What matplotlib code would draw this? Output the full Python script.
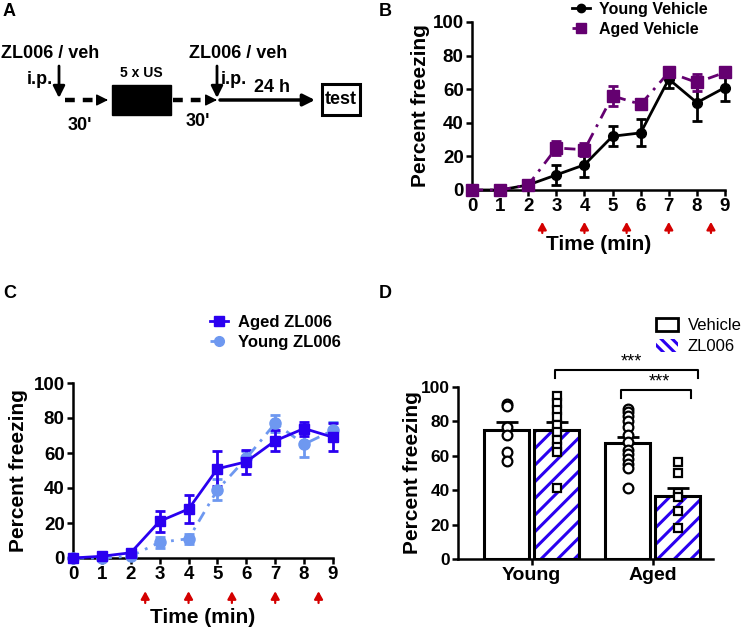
import numpy as np
import matplotlib
matplotlib.use("Agg")
import matplotlib.pyplot as plt
from matplotlib.lines import Line2D
from matplotlib.patches import Patch, Rectangle

plt.rcParams['font.family'] = ['Liberation Sans', 'DejaVu Sans']
plt.rcParams['hatch.linewidth'] = 2.2

# ---- data ----
minutes = np.arange(10)
shock_times = [2.5, 4, 5.5, 7, 8.5]

young_veh = [0, 0, 3, 9, 15, 32, 34, 66, 52, 61]
young_veh_err = [0, 0, 1, 6, 7, 6, 8, 5, 11, 8]
aged_veh = [0, 0, 3, 25, 24, 56, 51, 70, 64, 70]
aged_veh_err = [0, 0, 0, 4, 4, 6, 3, 3, 5, 3]

aged_zl = [0, 1, 3, 21, 28, 51, 55, 67, 74, 69]
aged_zl_err = [0, 0, 1, 6, 8, 10, 7, 6, 4, 8]
young_zl = [0, 0, 1, 9, 11, 39, 57, 77, 65, 73]
young_zl_err = [0, 0, 0, 3, 3, 6, 4, 5, 7, 5]

groups = ['Young', 'Aged']
bar_veh = [75, 67.5]
bar_veh_err = [4.8, 3.5]
bar_zl = [75, 36.8]
bar_zl_err = [4.8, 4.3]
pts_young_veh = [90, 89, 77, 72, 62, 57]
pts_young_zl = [95, 90.5, 86.5, 82.5, 78, 74, 69, 65, 62, 41.5]
pts_aged_veh = [87.5, 85.5, 83, 80.5, 77, 72, 68, 63.5, 61, 58, 55.5, 53, 41]
pts_aged_zl = [56.5, 50, 38.5, 36, 28, 18]

purple = '#640070'
blue = '#2a00f0'
light_blue = '#6e98f0'
red = '#d40000'

fig = plt.figure(figsize=(7.44, 6.33), dpi=100)


def style_axis(ax, tick_size):
    for s in ['top', 'right']:
        ax.spines[s].set_visible(False)
    for s in ['left', 'bottom']:
        ax.spines[s].set_linewidth(1.8)
    ax.tick_params(width=1.8, length=4, direction='out', labelsize=tick_size, pad=2)
    for lab in ax.get_xticklabels() + ax.get_yticklabels():
        lab.set_fontweight('bold')
    ax.set_ylim(0, 100)
    ax.set_yticks(range(0, 101, 20))
    ax.set_ylabel('Percent freezing', fontsize=15, fontweight='bold')


def time_course(ax, series, label_top, arrow_lo, arrow_hi):
    for y, err, color, mk, ms, ls in series:
        ax.errorbar(minutes, y, yerr=err, color=color, marker=mk, markersize=ms,
                    linestyle=ls, lw=2, elinewidth=2, capsize=3.5, capthick=2,
                    clip_on=False, zorder=3)
    ax.set_xlim(0, 9)
    ax.set_xticks(minutes)
    style_axis(ax, 13.5)
    for lab in ax.get_xticklabels() + ax.get_yticklabels():
        lab.set_fontweight('bold')
    ax.set_xlabel('Time (min)', fontsize=15, fontweight='bold')
    ax.xaxis.set_label_coords(0.5, label_top)
    for t in shock_times:
        ax.annotate('', xy=(t, arrow_hi), xytext=(t, arrow_lo),
                    xycoords=('data', 'axes fraction'), textcoords=('data', 'axes fraction'),
                    arrowprops=dict(arrowstyle='-|>,head_length=0.45,head_width=0.25',
                                    color=red, lw=1.6, shrinkA=0, shrinkB=0))


dashdot = (0, (4, 2.5, 1, 2.5))

# ---- panel B ----
axB = fig.add_axes([472 / 744, 1 - 190 / 633, 253 / 744, 168 / 633])
time_course(axB, [(young_veh, young_veh_err, 'black', 'o', 7, '-'),
                  (aged_veh, aged_veh_err, purple, 's', 8.5, dashdot)],
            -0.268, -0.256, -0.19)
axB.yaxis.set_label_coords(-0.166, 0.5)
axB.legend(handles=[Line2D([], [], color='black', marker='o', ms=6, lw=2),
                    Line2D([], [], color=purple, marker='s', ms=7, lw=2, ls=dashdot)],
           labels=['Young Vehicle', 'Aged Vehicle'],
           prop=dict(size=11.5, weight='bold'), frameon=False, loc='upper left',
           bbox_to_anchor=(572 / 744, 1 - 2 / 633), bbox_transform=fig.transFigure,
           borderpad=0, borderaxespad=0, handlelength=1.1, handletextpad=0.6,
           labelspacing=0.3)

# ---- panel C ----
axC = fig.add_axes([73 / 744, 1 - 558 / 633, 260 / 744, 175 / 633])
time_course(axC, [(young_zl, young_zl_err, light_blue, 'o', 8, dashdot),
                  (aged_zl, aged_zl_err, blue, 's', 7.5, '-')],
            -0.286, -0.257, -0.19)
axC.yaxis.set_label_coords(-0.173, 0.5)
axC.legend(handles=[Line2D([], [], color=blue, marker='s', ms=7, lw=2),
                    Line2D([], [], color=light_blue, marker='o', ms=7, lw=2, ls=dashdot)],
           labels=['Aged ZL006', 'Young ZL006'],
           prop=dict(size=12, weight='bold'), frameon=False, loc='upper left',
           bbox_to_anchor=(210 / 744, 1 - 315 / 633), bbox_transform=fig.transFigure,
           borderpad=0, borderaxespad=0, handlelength=1.1, handletextpad=0.6,
           labelspacing=0.3)

# ---- panel D ----
axD = fig.add_axes([458 / 744, 1 - 559 / 633, 255 / 744, 172 / 633])
xg = np.arange(len(groups))
w = 0.37
off = 0.207
axD.bar(xg - off, bar_veh, w, color='white', edgecolor='black', lw=2.2, zorder=2)
axD.bar(xg + off, bar_zl, w, color='white', edgecolor=blue, hatch='//', lw=0, zorder=2)
axD.bar(xg + off, bar_zl, w, fill=False, edgecolor='black', lw=2.2, zorder=3)
axD.errorbar(xg - off, bar_veh, yerr=[np.zeros(2), bar_veh_err], fmt='none',
             ecolor='black', elinewidth=2, capsize=8, capthick=2, zorder=4)
axD.errorbar(xg + off, bar_zl, yerr=[np.zeros(2), bar_zl_err], fmt='none',
             ecolor='black', elinewidth=2, capsize=8, capthick=2, zorder=4)
for pos, pts, mk, ms in [(xg[0] - off, pts_young_veh, 'o', 7),
                         (xg[0] + off, pts_young_zl, 's', 6),
                         (xg[1] - off, pts_aged_veh, 'o', 7),
                         (xg[1] + off, pts_aged_zl, 's', 6)]:
    axD.plot(np.full(len(pts), pos), pts, ls='none', marker=mk, ms=ms, mfc='white',
             mec='black', mew=1.6, zorder=5, clip_on=False)
axD.set_xlim(-0.61, 1.5)
axD.set_xticks(xg)
axD.set_xticklabels(groups)
style_axis(axD, 12.5)
for lab in axD.get_xticklabels():
    lab.set_fontsize(14)
axD.yaxis.set_label_coords(-0.141, 0.5)

# significance brackets
for x0, x1, yb, yt, xs, ys in [(0.19, 1.38, 105, 110, 0.825, 114.5),
                               (0.74, 1.32, 93.5, 98, 1.058, 103)]:
    axD.plot([x0, x0, x1, x1], [yb, yt, yt, yb], color='black', lw=1.5, clip_on=False)
    axD.text(xs, ys, '***', ha='center', va='center', fontsize=13)

axD.legend(handles=[Patch(facecolor='white', edgecolor='black', lw=2),
                    Patch(facecolor='white', edgecolor=blue, hatch='\\\\\\', lw=0)],
           labels=['Vehicle', 'ZL006'], prop=dict(size=12), frameon=False,
           loc='upper left', bbox_to_anchor=(656 / 744, 1 - 318 / 633),
           bbox_transform=fig.transFigure, borderpad=0, borderaxespad=0,
           handlelength=1.3, handleheight=0.8, handletextpad=0.6, labelspacing=0.35)

# ---- panel A (schematic) ----
axA = fig.add_axes([0, 0.5, 0.5, 0.5])
axA.set_xlim(0, 372)
axA.set_ylim(316.5, 0)
axA.axis('off')
tkw = dict(fontweight='bold', fontsize=13, va='center')
axA.text(1, 53, 'ZL006 / veh', ha='left', **tkw)
axA.text(27, 79, 'i.p.', ha='left', **tkw)
axA.text(189, 53, 'ZL006 / veh', ha='left', **tkw)
axA.text(221, 79, 'i.p.', ha='left', **tkw)
axA.text(80, 125, "30'", ha='center', **tkw)
axA.text(198, 121, "30'", ha='center', **tkw)
axA.text(141, 73, '5 x US', ha='center', fontweight='bold', fontsize=10, va='center')
axA.text(272, 88, '24 h', ha='center', **tkw)
axA.add_patch(Rectangle((112, 85), 59, 30, color='black'))
axA.add_patch(Rectangle((322, 84), 38, 31, facecolor='white', edgecolor='black', lw=2.2))
axA.text(341, 100, 'test', ha='center', **tkw)
head = '-|>,head_length=0.7,head_width=0.35'
for x in [59, 217]:
    axA.annotate('', xy=(x, 98), xytext=(x, 66),
                 arrowprops=dict(arrowstyle=head, color='black', lw=2, shrinkA=0, shrinkB=0))
for x0, x1 in [(65, 108), (173, 217)]:
    axA.plot([x0, x1 - 8], [100, 100], color='black', lw=3.2, ls=(0, (2.2, 1.8)))
    axA.annotate('', xy=(x1, 100), xytext=(x1 - 3, 100),
                 arrowprops=dict(arrowstyle=head, color='black', lw=1, shrinkA=0, shrinkB=0))
axA.annotate('', xy=(315, 100), xytext=(220, 100),
             arrowprops=dict(arrowstyle=head, color='black', lw=2.5, shrinkA=0, shrinkB=0))

# panel letters
for letter, x, y in [('A', 3, 11), ('B', 379, 11), ('C', 3, 294), ('D', 379, 294)]:
    fig.text(x / 744, 1 - y / 633, letter, fontsize=13, fontweight='bold', va='center')

fig.savefig('out.png', dpi=100)
